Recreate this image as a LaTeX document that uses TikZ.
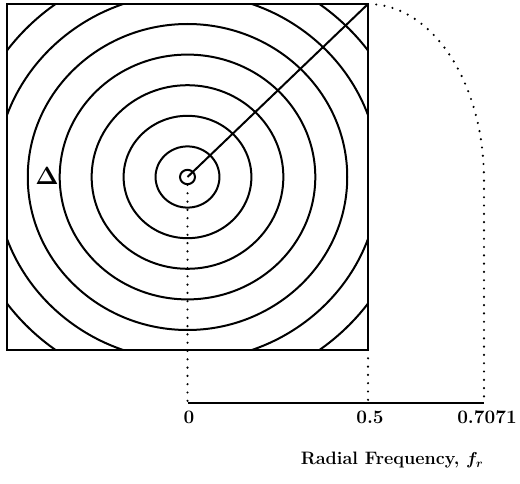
\documentclass[tikz,border=0pt]{standalone}
\usetikzlibrary{calc}
\begin{document}
\begin{tikzpicture}[x=1pt,y=1pt,
  solidline/.style={line width=2pt},
  dotline/.style={line width=2.4pt,line cap=round,dash pattern=on 0pt off 8.3pt},
  lbl/.style={font=\fontsize{19}{22}\selectfont\bfseries\boldmath,inner sep=0pt}]
\useasboundingbox (0,0) rectangle (520,483);
\coordinate (c) at (187.5,306);
\coordinate (sw) at (7,133);
\coordinate (ne) at (368,479);
\coordinate (se) at (368,133);
\coordinate (ax0) at (187.5,80);
\coordinate (ax5) at (368,80);
\coordinate (ax7) at (484,80);
\coordinate (dotstart) at (187.5,298);
% rings
\begin{scope}
  \clip (sw) rectangle (ne);
  \foreach \k in {1,...,7}{
    \draw[solidline] (c) ellipse[x radius={\k*31.95}, y radius={\k*30.6}];
  }
\end{scope}
\draw[solidline] (sw) rectangle (ne);
\draw[solidline] (c) ellipse[x radius=7.5, y radius=7.2];
\draw[solidline] (c) -- (ne);
% dotted guides
\draw[dotline] (ne) arc[start angle=90, end angle=0, x radius=116, y radius=176] -- (ax7);
\draw[dotline] (dotstart) -- (ax0);
\draw[dotline] (se) -- (ax5);
\draw[solidline] (ax0) -- (ax7);
% labels
\node[lbl,font=\fontsize{26}{28}\selectfont\bfseries\boldmath] (delta) at (47,307) {$\Delta$};
\node[lbl] (l0) at (189,66) {0};
\node[lbl] (l5) at (370,66) {0.5};
\node[lbl] (l7) at (487,66) {0.7071};
\node[lbl,font=\fontsize{18}{22}\selectfont\bfseries\boldmath] (title) at (392,23) {Radial Frequency, $f_r$};
\end{tikzpicture}
\end{document}
